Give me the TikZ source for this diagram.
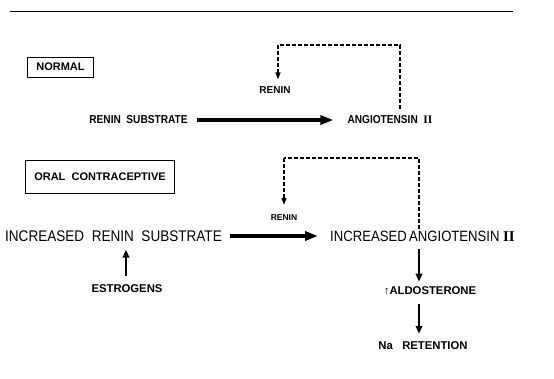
\documentclass[tikz,border=0pt]{standalone}
\usepackage{fontspec}
\setmainfont{Liberation Sans}
\newfontfamily\lettering[FakeStretch=0.88]{Liberation Sans}
\newfontfamily\wideletter{Liberation Sans}
\newfontfamily\numeral{Liberation Serif}
\usetikzlibrary{arrows.meta,calc}
\newcommand{\romtwo}{{\numeral\bfseries II}}
\begin{document}
\begin{tikzpicture}[x=1pt,y=-1pt,
  lbl/.style={inner sep=0pt,font=\lettering\bfseries\fontsize{11.5}{12}\selectfont},
  widelbl/.style={inner sep=0pt,font=\wideletter\bfseries\fontsize{11.3}{12}\selectfont},
  biglbl/.style={inner sep=0pt,font=\lettering\fontsize{15.4}{16}\selectfont},
  smalllbl/.style={inner sep=0pt,font=\wideletter\bfseries\fontsize{8.5}{9}\selectfont},
  tag/.style={draw,line width=1pt,inner xsep=8.5pt,inner ysep=0pt,
    font=\wideletter\bfseries\fontsize{11}{12}\selectfont},
  flow/.style={line width=3.6pt,-{Triangle[length=13pt,width=9pt]}},
  step arrow/.style={line width=2.6pt,-{Triangle[length=8pt,width=6.5pt]}},
  feedback/.style={line width=1.4pt,dash pattern=on 4pt off 2pt,
    -{Triangle[length=7pt,width=5pt]}}]
\useasboundingbox (0,0) rectangle (554,378);

% rule across the top
\draw[line width=1pt] (10,11) -- (513,11);

% ---- normal pathway
\node[tag,minimum height=20pt] (normal) at (60.5,67) {NORMAL};
\node[lbl] (sub1) at (138.5,120) {RENIN\ \ SUBSTRATE};
\node[lbl] (ang1) at (390,120) {ANGIOTENSIN\ \ \romtwo};
\node[smalllbl,font=\wideletter\bfseries\fontsize{10}{11}\selectfont] (ren1) at (275,90) {RENIN};
\coordinate (fbR1) at (400,45);
\coordinate (fbL1) at (278,45);
\draw[flow,shorten <=9pt,shorten >=14pt] (sub1) -- (ang1);
\draw[feedback,-,shorten <=7pt] (ang1.north -| fbR1) -- (fbR1) -- (fbL1);
\draw[feedback] (fbL1) -- ($(fbL1 |- ren1.north)+(0,-7)$);

% ---- oral contraceptive pathway
\node[tag,minimum height=33pt] (oral) at (100,176.5) {ORAL\ \ CONTRACEPTIVE};
\node[biglbl] (sub2) at (113.5,236) {INCREASED\ \ RENIN\ \ SUBSTRATE};
\node[biglbl,font=\lettering\fontsize{14.9}{16}\selectfont] (ang2) at (422.5,236) {INCREASED\,ANGIOTENSIN\ \romtwo};
\node[smalllbl] (ren2) at (284,218) {RENIN};
\node[widelbl] (est) at (127,289) {ESTROGENS};
\node[widelbl] (ald) at (430,291) {\textuparrow ALDOSTERONE};
\node[widelbl] (na) at (423,346) {Na\ \ \ RETENTION};
\coordinate (fbR2) at (419,158);
\coordinate (fbL2) at (284,158);
\draw[flow,shorten <=8pt,shorten >=12pt] (sub2) -- (ang2);
\draw[feedback,-,shorten <=2pt] (ang2.north -| fbR2) -- (fbR2) -- (fbL2);
\draw[feedback] (fbL2) -- ($(ren2.north)+(0,-10)$);
\draw[step arrow,shorten <=9pt,shorten >=8pt] (est.north -| 126,0) -- (sub2.south -| 126,0);
\draw[step arrow,shorten <=8pt,shorten >=5pt] (ang2.south -| fbR2) -- (ald.north -| fbR2);
\draw[step arrow,shorten <=9pt,shorten >=8pt] (ald.south -| fbR2) -- (na.north -| fbR2);
\end{tikzpicture}
\end{document}
